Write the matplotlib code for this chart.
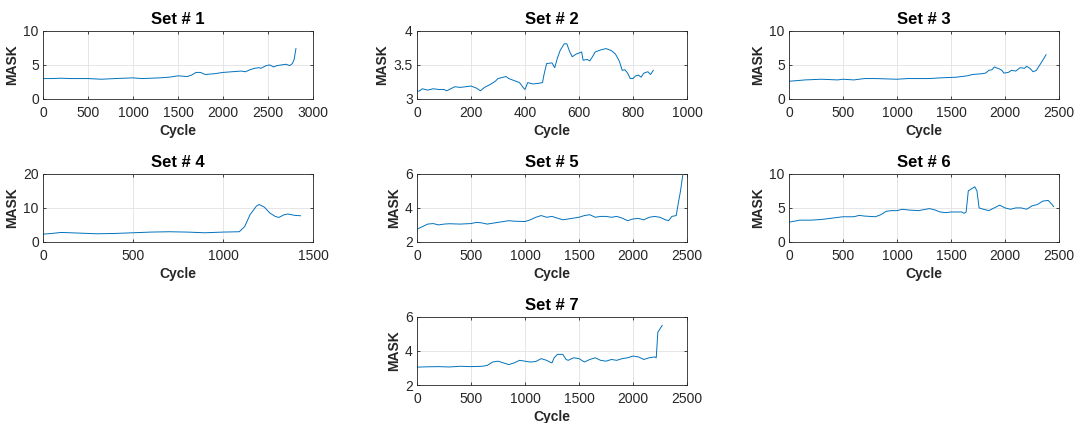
"""
MASK vs. cycle for seven data sets, MATLAB-like subplot grid.
"""

import matplotlib
matplotlib.use('Agg')
import matplotlib.pyplot as plt
from matplotlib.ticker import FormatStrFormatter

# ---- data ----
set1_x = [0, 100, 200, 300, 400, 500, 650, 800, 1000, 1100, 1200, 1300, 1400, 1500,
          1600, 1650, 1700, 1750, 1800, 1900, 2000, 2100, 2200, 2250, 2300, 2350,
          2400, 2420, 2480, 2520, 2560, 2600, 2650, 2700, 2740, 2770, 2790, 2810]
set1_y = [3.0, 3.0, 3.05, 3.0, 3.0, 3.0, 2.9, 3.0, 3.1, 3.0, 3.05, 3.1, 3.2, 3.4,
          3.3, 3.5, 3.9, 3.9, 3.6, 3.7, 3.9, 4.0, 4.1, 4.0, 4.3, 4.5,
          4.6, 4.5, 4.9, 5.0, 4.7, 4.9, 5.0, 5.1, 4.9, 5.2, 5.8, 7.4]

set2_x = [0, 10, 20, 40, 60, 80, 100, 110, 120, 140, 160, 180, 200, 220, 235, 250,
          270, 290, 300, 320, 330, 340, 360, 380, 395, 400, 410, 430, 450, 465, 470,
          480, 500, 510, 520, 530, 545, 555, 565, 575, 590, 610, 615, 630, 640, 650,
          660, 680, 700, 720, 735, 750, 760, 770, 780, 790, 800, 810, 820, 830, 840,
          855, 865, 875]
set2_y = [3.11, 3.12, 3.15, 3.13, 3.15, 3.14, 3.14, 3.12, 3.14, 3.18, 3.17, 3.18,
          3.19, 3.16, 3.12, 3.17, 3.21, 3.26, 3.30, 3.32, 3.33, 3.30, 3.27, 3.24,
          3.16, 3.14, 3.24, 3.22, 3.23, 3.24, 3.35, 3.52, 3.53, 3.46, 3.60, 3.71,
          3.81, 3.81, 3.70, 3.62, 3.66, 3.69, 3.57, 3.58, 3.56, 3.62, 3.69, 3.72,
          3.74, 3.71, 3.66, 3.55, 3.42, 3.43, 3.38, 3.30, 3.30, 3.34, 3.35, 3.32,
          3.38, 3.40, 3.36, 3.42]

set3_x = [0, 150, 300, 450, 500, 600, 700, 800, 1000, 1100, 1300, 1400, 1550, 1650,
          1700, 1780, 1820, 1850, 1880, 1900, 1950, 1970, 1990, 2030, 2060, 2100,
          2140, 2180, 2200, 2230, 2260, 2290, 2310, 2330, 2350, 2380]
set3_y = [2.6, 2.8, 2.9, 2.8, 2.9, 2.8, 3.0, 3.0, 2.9, 3.0, 3.0, 3.1, 3.2, 3.4,
          3.6, 3.7, 3.8, 4.2, 4.3, 4.7, 4.4, 4.2, 3.8, 3.9, 4.2, 4.1,
          4.6, 4.5, 4.8, 4.5, 4.0, 4.2, 4.7, 5.2, 5.7, 6.5]

set4_x = [0, 50, 100, 150, 250, 300, 400, 500, 600, 700, 800, 900, 1000, 1090,
          1120, 1150, 1185, 1200, 1230, 1260, 1290, 1310, 1340, 1360, 1400, 1430]
set4_y = [2.3, 2.5, 2.8, 2.7, 2.5, 2.4, 2.5, 2.7, 2.9, 3.0, 2.9, 2.7, 2.9, 3.0,
          4.5, 8.0, 10.5, 11.0, 10.2, 8.5, 7.5, 7.2, 8.0, 8.2, 7.8, 7.7]

set5_x = [0, 50, 100, 150, 200, 250, 300, 400, 500, 550, 600, 650, 700, 800, 850,
          900, 1000, 1050, 1100, 1150, 1200, 1250, 1300, 1350, 1400, 1450, 1500,
          1550, 1600, 1650, 1700, 1750, 1800, 1850, 1900, 1950, 2000, 2050, 2100,
          2150, 2200, 2250, 2300, 2330, 2360, 2400, 2420, 2440, 2460]
set5_y = [2.75, 2.9, 3.05, 3.08, 3.0, 3.05, 3.07, 3.05, 3.08, 3.15, 3.12, 3.05,
          3.1, 3.2, 3.25, 3.22, 3.2, 3.3, 3.45, 3.55, 3.45, 3.5, 3.4, 3.3, 3.35,
          3.4, 3.45, 3.55, 3.6, 3.45, 3.5, 3.5, 3.45, 3.5, 3.4, 3.25, 3.35, 3.38,
          3.3, 3.45, 3.5, 3.45, 3.3, 3.25, 3.5, 3.55, 4.3, 5.0, 5.9]

set6_x = [0, 100, 200, 300, 400, 500, 600, 650, 700, 800, 850, 900, 950, 1000,
          1050, 1100, 1200, 1300, 1350, 1400, 1450, 1500, 1600, 1620, 1640, 1660,
          1700, 1720, 1740, 1760, 1800, 1850, 1900, 1950, 2000, 2050, 2100, 2150,
          2200, 2250, 2300, 2350, 2400, 2430, 2450]
set6_y = [2.9, 3.2, 3.2, 3.3, 3.5, 3.7, 3.7, 3.9, 3.8, 3.7, 4.0, 4.5, 4.6, 4.6,
          4.8, 4.7, 4.6, 4.9, 4.7, 4.4, 4.3, 4.4, 4.4, 4.2, 4.4, 7.5,
          7.9, 8.1, 7.5, 5.0, 4.8, 4.6, 5.0, 5.4, 5.0, 4.8, 5.0, 5.0,
          4.8, 5.3, 5.5, 6.0, 6.1, 5.6, 5.2]

set7_x = [0, 100, 200, 300, 400, 500, 600, 650, 700, 750, 800, 850, 900, 950, 1000,
          1050, 1100, 1150, 1200, 1230, 1250, 1270, 1300, 1350, 1380, 1400, 1450,
          1500, 1550, 1600, 1650, 1700, 1750, 1800, 1850, 1900, 1950, 2000, 2050,
          2100, 2150, 2200, 2215, 2230, 2250, 2270]
set7_y = [3.05, 3.07, 3.08, 3.06, 3.1, 3.08, 3.1, 3.15, 3.35, 3.4, 3.3, 3.2, 3.3,
          3.45, 3.4, 3.35, 3.38, 3.55, 3.45, 3.35, 3.3, 3.6, 3.8, 3.8, 3.5, 3.45,
          3.6, 3.55, 3.35, 3.5, 3.6, 3.45, 3.4, 3.5, 3.45, 3.55, 3.6, 3.7, 3.65,
          3.5, 3.6, 3.65, 3.6, 5.1, 5.3, 5.5]

xs = [set1_x, set2_x, set3_x, set4_x, set5_x, set6_x, set7_x]
ys = [set1_y, set2_y, set3_y, set4_y, set5_y, set6_y, set7_y]

x_limits = [(0, 3000), (0, 1000), (0, 2500), (0, 1500), (0, 2500), (0, 2500), (0, 2500)]
x_ticks = [range(0, 3001, 500), range(0, 1001, 200), range(0, 2501, 500),
           range(0, 1501, 500), range(0, 2501, 500), range(0, 2501, 500),
           range(0, 2501, 500)]
y_limits = [(0, 10), (3, 4), (0, 10), (0, 20), (2, 6), (0, 10), (2, 6)]
y_ticks = [[0, 5, 10], [3, 3.5, 4], [0, 5, 10], [0, 10, 20], [2, 4, 6], [0, 5, 10], [2, 4, 6]]

plt.rcParams['font.family'] = ['Liberation Sans', 'DejaVu Sans']

# axes boxes in figure fractions (left, bottom, width, height)
col_left = [0.0399, 0.3868, 0.7319]
row_bottom = [0.766, 0.428, 0.0898]
w, h = 0.2505, 0.161
positions = [(col_left[0], row_bottom[0]), (col_left[1], row_bottom[0]), (col_left[2], row_bottom[0]),
             (col_left[0], row_bottom[1]), (col_left[1], row_bottom[1]), (col_left[2], row_bottom[1]),
             (col_left[1], row_bottom[2])]

line_color = '#0072BD'
axis_color = '#262626'

fig = plt.figure(figsize=(10.78, 4.23), dpi=100)

for i in range(7):
    left, bottom = positions[i]
    ax = fig.add_axes([left, bottom, w, h])
    ax.plot(xs[i], ys[i], color=line_color, linewidth=0.7)
    ax.set_xlim(*x_limits[i])
    ax.set_ylim(*y_limits[i])
    ax.set_xticks(list(x_ticks[i]))
    ax.set_yticks(y_ticks[i])
    ax.yaxis.set_major_formatter(FormatStrFormatter('%g'))
    ax.grid(True, color='#e2e2e2', linewidth=0.6)
    ax.set_axisbelow(True)
    ax.tick_params(direction='in', length=2.5, width=0.6, labelsize=10,
                   colors=axis_color, pad=3, top=True, right=True)
    ax.tick_params(axis='x', pad=5)
    for sp in ax.spines.values():
        sp.set_color(axis_color)
        sp.set_linewidth(0.6)
    ax.set_title(f'Set # {i + 1}', fontsize=12, fontweight='bold', pad=5)
    ax.set_xlabel('Cycle', fontsize=10, fontweight='bold', color=axis_color, labelpad=3)
    ax.set_ylabel('MASK', fontsize=10, fontweight='bold', color=axis_color, labelpad=3)

fig.savefig('out.png', dpi=100)
